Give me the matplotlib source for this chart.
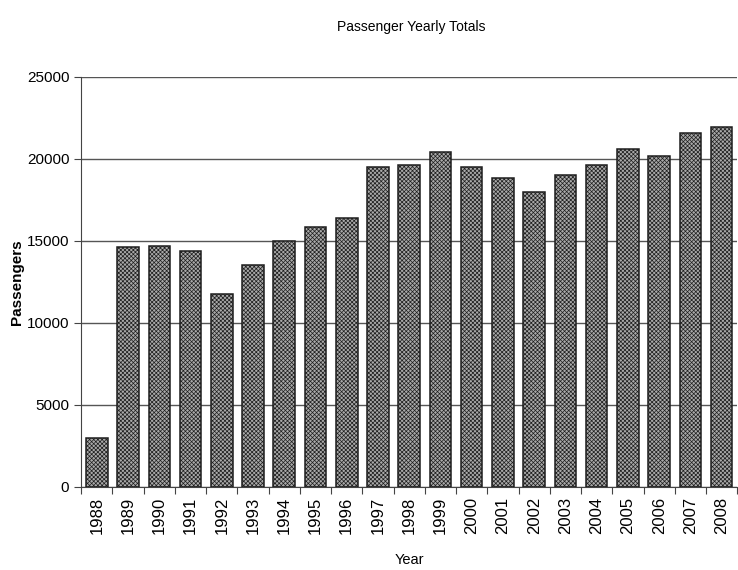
import numpy as np
import matplotlib
matplotlib.use("Agg")
import matplotlib.pyplot as plt

years = [str(y) for y in range(1988, 2009)]
passengers = [2950, 14600, 14700, 14400, 11750, 13550, 15000, 15850, 16400,
              19500, 19650, 20450, 19500, 18850, 18000, 19000, 19600, 20600,
              20200, 21600, 21950]
y_ticks = [0, 5000, 10000, 15000, 20000, 25000]

plt.rcParams["font.family"] = ["Liberation Sans", "DejaVu Sans"]
plt.rcParams["hatch.color"] = "#555555"
plt.rcParams["hatch.linewidth"] = 0.5

fig = plt.figure(figsize=(7.38, 5.70), dpi=100)
ax = fig.add_axes([0.110, 0.146, 0.889, 0.719])

x = np.arange(len(years))
ax.bar(x, passengers, width=0.69, color="#a9a9a9", edgecolor="#1e1e1e",
       linewidth=1.1, hatch="xxxxxxxx", zorder=3)

ax.set_xlim(-0.5, len(years) - 0.5)
ax.set_ylim(0, 25000)
ax.set_yticks(y_ticks)
ax.set_yticklabels([str(v) for v in y_ticks], fontsize=11)
ax.yaxis.grid(True, color="#555555", linewidth=1.0, zorder=0)

# ticks between categories, labels centred under bars
ax.set_xticks(np.arange(-0.5, len(years) + 0.5, 1.0))
ax.set_xticklabels([])
ax.set_xticks(x, minor=True)
ax.set_xticklabels(years, minor=True, rotation=90, fontsize=12)
ax.tick_params(axis="x", which="minor", length=0, pad=7)
ax.tick_params(axis="x", which="major", length=5, direction="out", color="#444444")
ax.tick_params(axis="y", length=5, direction="out", color="#444444")

for side in ["top", "right"]:
    ax.spines[side].set_visible(False)
ax.spines["left"].set_color("#444444")
ax.spines["bottom"].set_color("#444444")

ax.set_ylabel("Passengers", fontsize=11, fontweight="bold", labelpad=2)
ax.set_xlabel("Year", fontsize=10.5, labelpad=14)
fig.text(0.557, 0.952, "Passenger Yearly Totals", ha="center", va="center", fontsize=10)

fig.savefig("out.png", dpi=100)
